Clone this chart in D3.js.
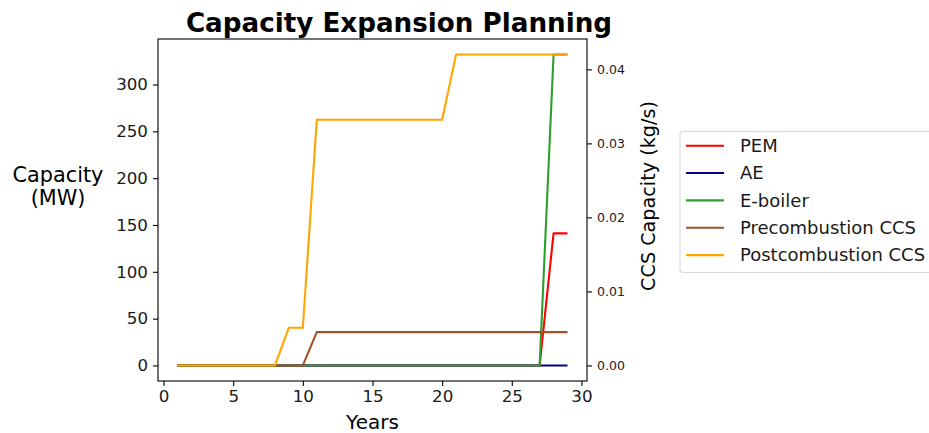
<!DOCTYPE html>
<html>
<head>
<meta charset="utf-8">
<script src="https://cdn.jsdelivr.net/npm/d3@7/dist/d3.min.js"></script>
<style>
  html, body { margin: 0; padding: 0; background: #fff; overflow: hidden; }
  svg { display: block; font-family: "DejaVu Sans", sans-serif; }
</style>
</head>
<body>
<svg id="chart" width="929" height="433"></svg>
<script>
// Planning horizon (years)
const years = d3.range(1, 30);

// Installed capacity, MW (left axis)
const pem      = [0,0,0,0,0,0,0,0,0,0,0,0,0,0,0,0,0,0,0,0,0,0,0,0,0,0,0,141,141];
const ae       = [0,0,0,0,0,0,0,0,0,0,0,0,0,0,0,0,0,0,0,0,0,0,0,0,0,0,0,0,0];
const eboiler  = [0,0,0,0,0,0,0,0,0,0,0,0,0,0,0,0,0,0,0,0,0,0,0,0,0,0,0,332,332];

// CCS capacity, kg/s (right axis)
const precomb  = [0,0,0,0,0,0,0,0,0,0,0.0045,0.0045,0.0045,0.0045,0.0045,0.0045,0.0045,0.0045,0.0045,0.0045,
                  0.0045,0.0045,0.0045,0.0045,0.0045,0.0045,0.0045,0.0045,0.0045];
const postcomb = [0,0,0,0,0,0,0,0,0.0051,0.0051,0.0332,0.0332,0.0332,0.0332,0.0332,0.0332,0.0332,0.0332,0.0332,0.0332,
                  0.042,0.042,0.042,0.042,0.042,0.042,0.042,0.042,0.042];

const xTicks      = [0, 5, 10, 15, 20, 25, 30];
const leftTicks   = [0, 50, 100, 150, 200, 250, 300];
const rightTicks  = [0, 0.01, 0.02, 0.03, 0.04];

const seriesLeft = [
  { name: "PEM",      values: pem,     color: "#ff0000" },
  { name: "AE",       values: ae,      color: "#00008b" },
  { name: "E-boiler", values: eboiler, color: "#2ca02c" }
];
const seriesRight = [
  { name: "Precombustion CCS",  values: precomb,  color: "#a0522d" },
  { name: "Postcombustion CCS", values: postcomb, color: "#ffa500" }
];

const svg = d3.select("#chart");
const plot = { left: 158, right: 587, top: 39, bottom: 381 };

// axis ranges with 5% padding around the data
function padded(lo, hi) { const m = (hi - lo) * 0.05; return [lo - m, hi + m]; }

const x = d3.scaleLinear().domain(padded(d3.min(years), d3.max(years))).range([plot.left, plot.right]);
const yL = d3.scaleLinear()
  .domain(padded(0, d3.max(seriesLeft, s => d3.max(s.values))))
  .range([plot.bottom, plot.top]);
const yR = d3.scaleLinear()
  .domain(padded(0, d3.max(seriesRight, s => d3.max(s.values))))
  .range([plot.bottom, plot.top]);

function drawLines(list, y) {
  const line = d3.line().x((d, i) => x(years[i])).y(d => y(d));
  list.forEach(s => {
    svg.append("path")
      .datum(s.values)
      .attr("fill", "none")
      .attr("stroke", s.color)
      .attr("stroke-width", 2.1)
      .attr("stroke-linejoin", "round")
      .attr("d", line);
  });
}
drawLines(seriesLeft, yL);
drawLines(seriesRight, yR);

// frame
svg.append("rect")
  .attr("x", plot.left).attr("y", plot.top)
  .attr("width", plot.right - plot.left).attr("height", plot.bottom - plot.top)
  .attr("fill", "none").attr("stroke", "#000").attr("stroke-width", 1.1);

function styleAxis(g, size) {
  g.select(".domain").remove();
  g.selectAll(".tick line").attr("stroke", "#000").attr("stroke-width", 1.1);
  g.selectAll(".tick text").attr("fill", "#1a1a1a")
    .style("font-size", size + "px").style("font-family", "DejaVu Sans");
}

svg.append("g")
  .attr("transform", `translate(0,${plot.bottom})`)
  .call(d3.axisBottom(x).tickValues(xTicks).tickSize(5).tickPadding(4).tickFormat(d3.format("d")))
  .call(g => styleAxis(g, 16.7));

svg.append("g")
  .attr("transform", `translate(${plot.left},0)`)
  .call(d3.axisLeft(yL).tickValues(leftTicks).tickSize(5).tickPadding(5).tickFormat(d3.format("d")))
  .call(g => styleAxis(g, 16.7));

svg.append("g")
  .attr("transform", `translate(${plot.right},0)`)
  .call(d3.axisRight(yR).tickValues(rightTicks).tickSize(5).tickPadding(5).tickFormat(d3.format(".2f")))
  .call(g => styleAxis(g, 12.5));

// title
svg.append("text")
  .attr("x", 399).attr("y", 31.5)
  .attr("text-anchor", "middle")
  .style("font-size", "26.2px").style("font-weight", "bold")
  .text("Capacity Expansion Planning");

// x label
svg.append("text")
  .attr("x", (plot.left + plot.right) / 2).attr("y", 429)
  .attr("text-anchor", "middle")
  .style("font-size", "20px")
  .text("Years");

// left y label (horizontal, two lines)
const yl = svg.append("text").attr("text-anchor", "middle").style("font-size", "20.8px");
yl.append("tspan").attr("x", 58).attr("y", 181.5).text("Capacity");
yl.append("tspan").attr("x", 58).attr("y", 205).text("(MW)");

// right y label
svg.append("text")
  .attr("transform", `translate(655,196) rotate(-90)`)
  .attr("text-anchor", "middle")
  .style("font-size", "19.2px")
  .text("CCS Capacity (kg/s)");

// legend
const legend = svg.append("g");
const allSeries = seriesLeft.concat(seriesRight);
legend.append("rect")
  .attr("x", 680).attr("y", 131.5).attr("width", 300).attr("height", 141)
  .attr("rx", 3).attr("fill", "#fff")
  .attr("stroke", "#d9d9d9").attr("stroke-width", 1.1);
allSeries.forEach((s, i) => {
  const cy = 145.7 + i * 27.35;
  legend.append("line")
    .attr("x1", 686).attr("x2", 724).attr("y1", cy).attr("y2", cy)
    .attr("stroke", s.color).attr("stroke-width", 2.1);
  legend.append("text")
    .attr("x", 740).attr("y", cy + 6.3)
    .style("font-size", "18px").attr("fill", "#1a1a1a")
    .text(s.name);
});
</script>
</body>
</html>
